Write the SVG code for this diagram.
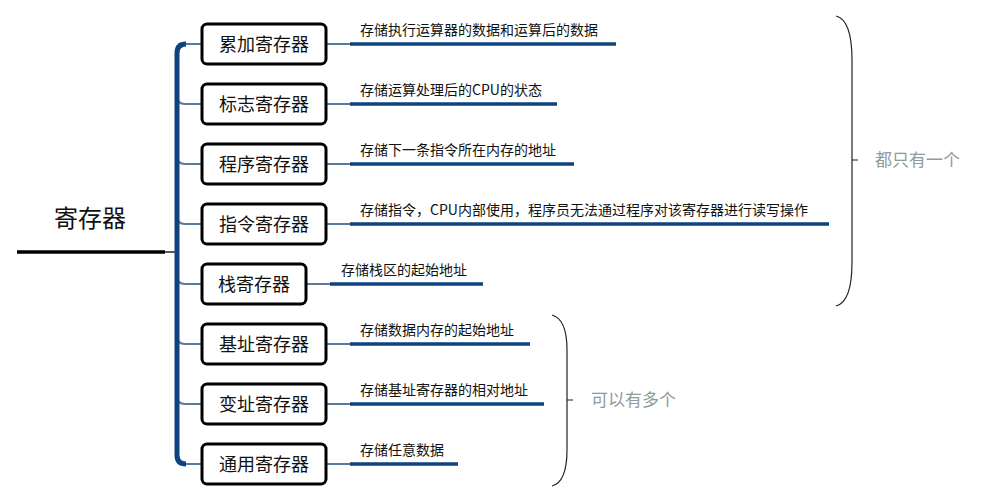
<svg xmlns="http://www.w3.org/2000/svg" width="993" height="502" viewBox="0 0 993 502">
<style>
text{font-family:"Noto Sans CJK SC","Noto Sans",sans-serif;fill:#111}
.box{fill:#fff;stroke:#000;stroke-width:3}
.nt{font-size:18px;text-anchor:middle}
.dt{font-size:14px}
.thin{fill:none;stroke:#5b7a99;stroke-width:2}
.thick{fill:none;stroke:#0e4380;stroke-width:3.5}
.br{fill:none;stroke:#222;stroke-width:1.2}
.note{font-size:17px;fill:#8d9b9b}
</style>
<rect width="993" height="502" fill="#fff"/>
<g id="connectors">
<line x1="17" y1="252" x2="165" y2="252" stroke="#000" stroke-width="3.5"/>
<line x1="165" y1="252" x2="177" y2="252" stroke="#222" stroke-width="1.5"/>
<path class="thin" d="M185 44 L202 44 M177 96 Q177 104 185 104 L202 104 M177 156 Q177 164 185 164 L202 164 M177 216 Q177 224 185 224 L202 224 M177 276 Q177 284 185 284 L202 284 M177 336 Q177 344 185 344 L202 344 M177 396 Q177 404 185 404 L202 404 M185 464 L202 464"/>
<path d="M186 44 Q177 44 177 53 L177 455 Q177 464 186 464" fill="none" stroke="#0e4380" stroke-width="5"/>
<path class="thin" stroke-width="1.5" d="M326 44 L350 44 M326 104 L350 104 M326 164 L350 164 M326 224 L350 224 M306 284 L330 284 M326 344 L350 344 M326 404 L350 404 M326 464 L350 464"/>
<path class="thick" d="M350 44 L616 44 M350 104 L557 104 M350 164 L574 164 M350 224 L829 224 M330 284 L483 284 M350 344 L530 344 M350 404 L544 404 M350 464 L458 464"/>
</g>
<g id="root"><text x="90" y="227" font-size="24" text-anchor="middle">寄存器</text></g>
<g id="n1"><rect class="box" x="202" y="24" width="124" height="40" rx="5"/><text class="nt" x="264" y="50.5">累加寄存器</text><text class="dt" x="360" y="35">存储执行运算器的数据和运算后的数据</text></g>
<g id="n2"><rect class="box" x="202" y="84" width="124" height="40" rx="5"/><text class="nt" x="264" y="110.5">标志寄存器</text><text class="dt" x="360" y="95">存储运算处理后的CPU的状态</text></g>
<g id="n3"><rect class="box" x="202" y="144" width="124" height="40" rx="5"/><text class="nt" x="264" y="170.5">程序寄存器</text><text class="dt" x="360" y="155">存储下一条指令所在内存的地址</text></g>
<g id="n4"><rect class="box" x="202" y="204" width="124" height="40" rx="5"/><text class="nt" x="264" y="230.5">指令寄存器</text><text class="dt" x="360" y="215">存储指令，CPU内部使用，程序员无法通过程序对该寄存器进行读写操作</text></g>
<g id="n5"><rect class="box" x="202" y="264" width="104" height="40" rx="5"/><text class="nt" x="254" y="290.5">栈寄存器</text><text class="dt" x="341" y="275">存储栈区的起始地址</text></g>
<g id="n6"><rect class="box" x="202" y="324" width="124" height="40" rx="5"/><text class="nt" x="264" y="350.5">基址寄存器</text><text class="dt" x="360" y="335">存储数据内存的起始地址</text></g>
<g id="n7"><rect class="box" x="202" y="384" width="124" height="40" rx="5"/><text class="nt" x="264" y="410.5">变址寄存器</text><text class="dt" x="360" y="395">存储基址寄存器的相对地址</text></g>
<g id="n8"><rect class="box" x="202" y="444" width="124" height="40" rx="5"/><text class="nt" x="264" y="470.5">通用寄存器</text><text class="dt" x="360" y="455">存储任意数据</text></g>
<g id="brace1"><path class="br" d="M836 16 Q852 20 852 60 L852 262 Q852 302 836 306 M852 160 L858 160"/><text class="note" x="875" y="166">都只有一个</text></g>
<g id="brace2"><path class="br" d="M552 315 Q567 319 567 350 L567 450 Q567 482 552 486 M567 400 L573 400"/><text class="note" x="591" y="406">可以有多个</text></g>
</svg>
